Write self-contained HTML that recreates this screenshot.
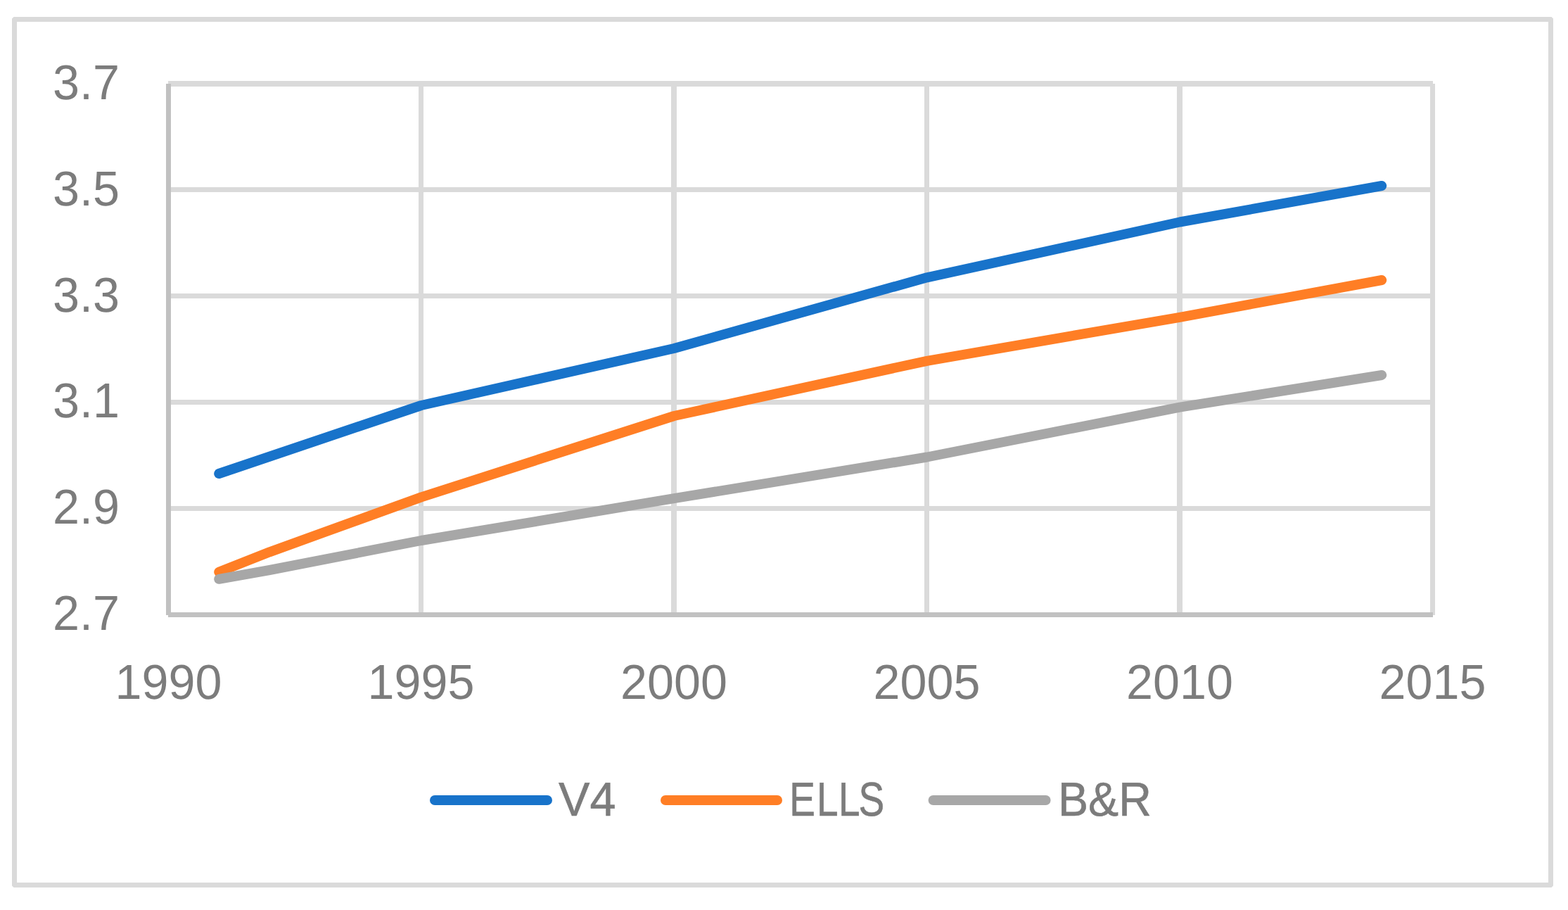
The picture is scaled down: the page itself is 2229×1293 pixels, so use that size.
<!DOCTYPE html>
<html lang="en">
<head>
<meta charset="utf-8">
<title>Chart: V4, ELLS, B&amp;R (1990-2015)</title>
<style>
html,body{margin:0;padding:0;background:#fff;}
body{width:2229px;height:1293px;overflow:hidden;}
svg{display:block;}
text{font-family:"Liberation Sans",sans-serif;fill:#7C7C7C;text-rendering:geometricPrecision;}
</style>
</head>
<body>
<svg role="img" aria-label="Line chart of V4, ELLS and B&amp;R, 1990 to 2015" width="2229" height="1293" viewBox="0 0 2229 1293">
<rect x="0" y="0" width="2229" height="1293" fill="#fff"/>
<!-- chart frame -->
<path fill="#DADADA" fill-rule="evenodd" d="M19.5,24H2205.5L2208,26.5V1258.5L2205.5,1261H19.5L17,1258.5V26.5Z M24,31V1254H2201V31Z"/>
<!-- gridlines -->
<g fill="#DADADA" shape-rendering="crispEdges">
<rect x="239" y="115" width="1798" height="8"/>
<rect x="239" y="266" width="1798" height="7"/>
<rect x="239" y="417" width="1798" height="7"/>
<rect x="239" y="568" width="1798" height="7"/>
<rect x="239" y="719" width="1798" height="7"/>
<rect x="595" y="119" width="7" height="755"/>
<rect x="954" y="119" width="8" height="755"/>
<rect x="1314" y="119" width="7" height="755"/>
<rect x="1673" y="119" width="8" height="755"/>
<rect x="2033" y="119" width="7" height="755"/>
</g>
<!-- axes -->
<g fill="#C1C1C1" shape-rendering="crispEdges">
<rect x="236" y="119" width="7" height="755"/>
<rect x="239" y="870" width="1798" height="7"/>
</g>
<!-- series -->
<g fill="none" stroke-width="14" stroke-linecap="round" stroke-linejoin="round">
<polyline stroke="#1873CA" points="311.2,673.0 598.9,576.0 958.3,495.0 1317.7,394.3 1677.1,315.5 1964.2,264.0"/>
<polyline stroke="#FF7E25" points="311.2,812.7 383.3,784.3 598.9,706.3 958.3,591.0 1317.7,512.8 1677.1,450.8 1964.2,398.0"/>
<polyline stroke="#A7A7A7" points="311.2,822.8 383.3,810.0 598.9,768.0 958.3,708.2 1317.7,649.5 1677.1,578.6 1964.2,533.0"/>
</g>
<!-- axis labels -->
<g font-size="68.3">
<text transform="translate(75,140.80) scale(1.0,1.02)">3.7</text>
<text transform="translate(75,291.65) scale(1.0,1.02)">3.5</text>
<text transform="translate(75,442.50) scale(1.0,1.02)">3.3</text>
<text transform="translate(75,593.35) scale(1.0,1.02)">3.1</text>
<text transform="translate(75,744.20) scale(1.0,1.02)">2.9</text>
<text transform="translate(75,895.05) scale(1.0,1.02)">2.7</text>
<text transform="translate(239.5,993) scale(1.0,1.02)" text-anchor="middle">1990</text>
<text transform="translate(598.5,993) scale(1.0,1.02)" text-anchor="middle">1995</text>
<text transform="translate(958.0,993) scale(1.0,1.02)" text-anchor="middle">2000</text>
<text transform="translate(1317.5,993) scale(1.0,1.02)" text-anchor="middle">2005</text>
<text transform="translate(1677.0,993) scale(1.0,1.02)" text-anchor="middle">2010</text>
<text transform="translate(2036.5,993) scale(1.0,1.02)" text-anchor="middle">2015</text>
</g>
<!-- legend -->
<g fill="none" stroke-width="14" stroke-linecap="round">
<line stroke="#1873CA" x1="618" y1="1137" x2="778" y2="1137"/>
<line stroke="#FF7E25" x1="946" y1="1137" x2="1105" y2="1137"/>
<line stroke="#A7A7A7" x1="1326.6" y1="1137" x2="1486.6" y2="1137"/>
</g>
<g font-size="68" stroke="#7C7C7C" stroke-width="0.6" stroke-linejoin="round">
<text transform="translate(794,1158.8) scale(0.98,1)">V4</text>
<text transform="translate(1122.3,1158.8) scale(0.81,1)" dx="0 2.4 0.4 -2.6">ELLS</text>
<text transform="translate(1504,1158.8) scale(0.95,1)">B&amp;R</text>
</g>
</svg>
</body>
</html>
